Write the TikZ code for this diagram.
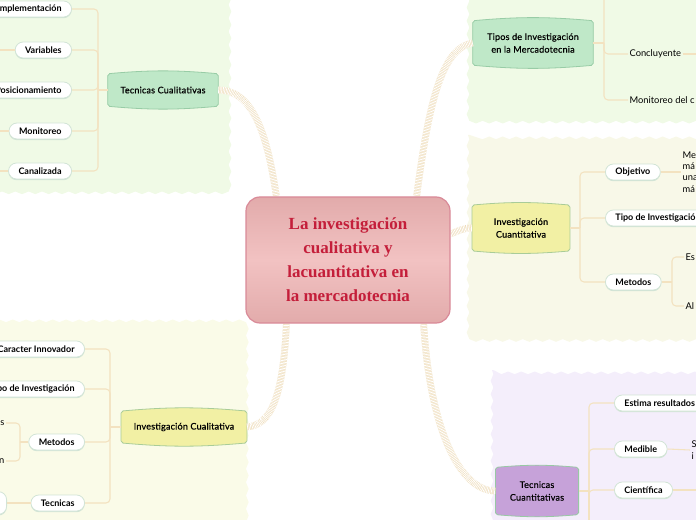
\documentclass[tikz,border=0pt]{standalone}
\usepackage{fontspec}
\setmainfont{Lato}
\newfontfamily\titlefont{Liberation Serif}
\newfontfamily\topicfont{Lato}[FakeBold=0.5,LetterSpace=2]
\usetikzlibrary{shadows,decorations.pathmorphing,calc}
\definecolor{pgreen}{HTML}{F0FAE6}
\definecolor{pcream}{HTML}{F8F8E8}
\definecolor{pcreamb}{HTML}{FAFBE8}
\definecolor{plav}{HTML}{F4EEFB}
\definecolor{tgreen}{HTML}{BFE8C8}
\definecolor{tgreenb}{HTML}{98CCA6}
\definecolor{tyellow}{HTML}{F2F0A4}
\definecolor{tyellowb}{HTML}{A9CC98}
\definecolor{tpurple}{HTML}{C6A2D9}
\definecolor{tpurpleb}{HTML}{98C8A4}
\definecolor{rootfill}{HTML}{F2C2C2}
\definecolor{rootedge}{HTML}{E2ABAB}
\definecolor{rootborder}{HTML}{D98A98}
\definecolor{roottext}{HTML}{C41E3A}
\definecolor{conncol}{HTML}{F3E2C0}
\definecolor{ropecol}{HTML}{EEDCB8}
\definecolor{pillborder}{HTML}{D2E4D6}
\definecolor{pillshadow}{HTML}{D3E5D7}
\pgfdeclarelayer{panel}
\pgfdeclarelayer{bg}
\pgfsetlayers{panel,bg,main}
\newcommand{\barrelfill}[3]{%
  \begin{pgfonlayer}{bg}
  \draw[fill=#2,draw=#3,line width=0.6pt,rounded corners=1.5pt]
    (#1.north west) to[bend left=5] (#1.north east) -- (#1.south east)
    to[bend left=5] (#1.south west) -- cycle;
  \end{pgfonlayer}}
\begin{document}
\begin{tikzpicture}[x=0.75pt,y=-0.75pt,
  wavy/.style={decorate,decoration={snake,amplitude=1pt,segment length=10pt}},
  rootnode/.style={draw=rootborder,line width=0.9pt,rounded corners=10.5pt,
    top color=rootedge,bottom color=rootedge,middle color=rootfill,
    minimum width=153pt,minimum height=94.5pt,align=center,text=roottext,
    font=\titlefont\bfseries\fontsize{12.75pt}{18pt}\selectfont},
  topic/.style={inner sep=0pt,align=center,
    font=\topicfont\fontsize{6.8pt}{9.5pt}\selectfont},
  pill/.style={draw=pillborder,line width=0.6pt,fill=white,rounded corners=6pt,
    minimum height=12pt,inner xsep=7.5pt,inner ysep=0pt,
    font=\fontsize{6.75pt}{8pt}\selectfont\bfseries,
    drop shadow={shadow xshift=0pt,shadow yshift=-0.9pt,fill=pillshadow,opacity=1}},
  plain/.style={inner sep=1pt,anchor=west,align=left,
    font=\fontsize{7pt}{8.5pt}\selectfont},
  conn/.style={draw=conncol,line width=0.8pt,rounded corners=3pt},
  rope/.style={line width=5pt,draw=ropecol,
    postaction={draw=white,line width=5.2pt,dash pattern=on 0.55pt off 0.6pt}}
]
\useasboundingbox (0,0) rectangle (696,520);
\clip (0,0) rectangle (696,520);
% panels
\begin{pgfonlayer}{panel}
\fill[pgreen,wavy] (-30,-30) rectangle (224,194);
\fill[pgreen,wavy] (468,-30) rectangle (730,118);
\fill[pcream,wavy] (468,135) rectangle (730,338);
\fill[pcreamb,wavy] (-30,318) rectangle (251,550);
\fill[plav,wavy] (492,370) rectangle (730,550);
\end{pgfonlayer}
\coordinate (L) at (0,0);
\coordinate (R) at (696,0);
% root
\node[rootnode] (root) at (348,260) {La investigación\\cualitativa y\\lacuantitativa en\\la mercadotecnia};
% topic nodes
\node[topic,minimum width=82.5pt,minimum height=24pt] (tcl) at (163,90) {Tecnicas Cualitativas};
\barrelfill{tcl}{tgreen}{tgreenb}
\node[topic,minimum width=90pt,minimum height=33pt] (tipos) at (533,43) {Tipos de Investigación\\en la Mercadotecnia};
\barrelfill{tipos}{tgreen}{tgreenb}
\node[topic,minimum width=73pt,minimum height=34pt] (icuan) at (521,228) {Investigación\\Cuantitativa};
\barrelfill{icuan}{tyellow}{tyellowb}
\node[topic,minimum width=94pt,minimum height=23.5pt] (icual) at (184,427) {Investigación Cualitativa};
\barrelfill{icual}{tyellow}{tyellowb}
\node[topic,minimum width=62pt,minimum height=35pt] (tcuan) at (537,491) {Tecnicas\\Cuantitativas};
\barrelfill{tcuan}{tpurple}{tpurpleb}
% ropes
\begin{pgfonlayer}{bg}
\draw[rope] ($(root.north west)+(31,0)$) .. controls (268,140) and (255,90) .. (tcl.east);
\draw[rope] ($(root.north east)+(-34,0)$) .. controls (428,110) and (440,48) .. (tipos.west);
\draw[rope] ($(root.east)+(0,-26)$) .. controls (458,231) and (463,228) .. (icuan.west);
\draw[rope] ($(root.south west)+(41,0)$) .. controls (283,400) and (270,425) .. (icual.east);
\draw[rope] ($(root.south east)+(-27,0)$) .. controls (430,430) and (460,491) .. (tcuan.west);
\end{pgfonlayer}
% top-left group
\node[pill,anchor=east] (imp) at (72,9) {Implementación};
\node[pill,anchor=east] (var) at (72,50) {Variables};
\node[pill,anchor=east] (pos) at (72,90) {Posicionamiento};
\node[pill,anchor=east] (mon) at (72,131) {Monitoreo};
\node[pill,anchor=east] (can) at (72,171) {Canalizada};
\coordinate (jtl) at (98,90);
\draw[conn] (tcl.west) -- (jtl);
\foreach \c in {imp,var,pos,mon,can}{\draw[conn] (jtl) |- (\c.east);}
\foreach \c in {var,mon,can}{\draw[conn] (\c.west) -- (\c.west -| L);}
% top-right group
\node[plain] (concl) at (628,54) {Concluyente};
\node[plain] (monit) at (628,100) {Monitoreo del c};
\coordinate (jtr) at (604,43);
\coordinate (trtop) at (604,0);
\draw[conn] (tipos.east) -- (jtr);
\draw[conn] (trtop) |- (monit.west);
\draw[conn] (jtr) |- (concl.west);
\draw[conn] (concl.east) -- (concl.east -| R);
% right middle group
\node[pill,anchor=west] (obj) at (605,172) {Objetivo};
\node[pill,anchor=west] (tip2) at (605,218) {Tipo de Investigación};
\node[pill,anchor=west] (met2) at (605,282) {Metodos};
\coordinate (jrm) at (580,228);
\draw[conn] (icuan.east) -- (jrm);
\foreach \c in {obj,tip2,met2}{\draw[conn] (jrm) |- (\c.west);}
\node[plain] (objt) at (681,172) {Me\\má\\una\\má};
\draw[conn] (obj.east) -- (objt.west);
\node[plain] (es) at (684,257) {Es};
\node[plain] (al) at (684,306) {Al};
\coordinate (jm2) at (672,282);
\draw[conn] (met2.east) -- (jm2);
\draw[conn] (jm2) |- (es.west);
\draw[conn] (jm2) |- (al.west);
% bottom-left group
\node[pill,anchor=east] (car) at (85,349) {Caracter Innovador};
\node[pill,anchor=east] (tip3) at (85,389) {Tipo de Investigación};
\node[pill,anchor=east] (met3) at (85,442) {Metodos};
\node[pill,anchor=east] (tec3) at (85,503) {Tecnicas};
\coordinate (jbl) at (110,427);
\draw[conn] (icual.west) -- (jbl);
\foreach \c in {car,tip3,met3,tec3}{\draw[conn] (jbl) |- (\c.east);}
\node[plain,anchor=east] (s1) at (6,423) {s};
\node[plain,anchor=east] (n1) at (6,461) {n};
\coordinate (jm3) at (20,442);
\draw[conn] (met3.west) -- (jm3);
\draw[conn] (jm3) |- (s1.east);
\draw[conn] (jm3) |- (n1.east);
\node[pill,anchor=east,minimum height=17pt,minimum width=40pt] (tec3c) at (7,503) {};
\draw[conn] (tec3.west) -- (tec3c.east);
% bottom-right group
\node[pill,anchor=west] (est) at (614,403) {Estima resultados};
\node[pill,anchor=west] (med) at (614,449) {Medible};
\node[pill,anchor=west] (cie) at (614,490) {Científica};
\coordinate (jbr) at (589,491);
\coordinate (brb) at (589,520);
\draw[conn] (tcuan.east) -- (jbr);
\foreach \c in {est,med,cie}{\draw[conn] (jbr) |- (\c.west);}
\draw[conn] (jbr) -- (brb);
\node[plain] (medt) at (690,450) {S\\i};
\draw[conn] (med.east) -- (medt.west);
\draw[conn] (cie.east) -- (cie.east -| R);
\end{tikzpicture}
\end{document}
